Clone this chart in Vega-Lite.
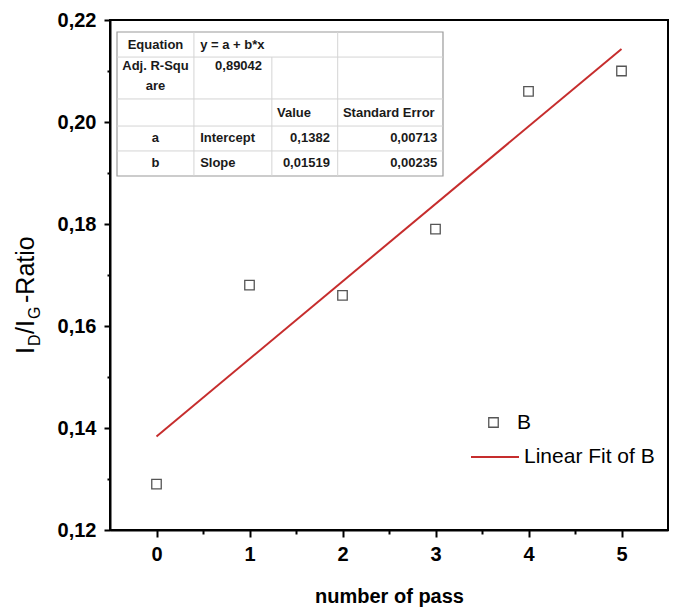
{
  "$schema": "https://vega.github.io/schema/vega-lite/v6.json",
  "width": 558,
  "height": 510,
  "autosize": {"type": "none"},
  "padding": {"left": 110, "top": 20, "right": 6, "bottom": 84},
  "background": "white",
  "config": {
    "font": "Liberation Sans",
    "view": {"stroke": "black", "strokeWidth": 2},
    "axis": {
      "grid": false,
      "domainColor": "black",
      "domainWidth": 2,
      "tickColor": "black",
      "tickWidth": 2,
      "labelFont": "Liberation Sans",
      "labelFontWeight": "bold",
      "labelFontSize": 20,
      "labelColor": "black",
      "labelOverlap": false,
      "labelFlush": false,
      "titleFont": "Liberation Sans",
      "titleFontWeight": "bold",
      "titleFontSize": 20,
      "titleColor": "black"
    },
    "legend": {"labelFont": "Liberation Sans", "labelColor": "black", "padding": 0}
  },
  "datasets": {
    "points": [
      {"pass": 0, "ratio": 0.129},
      {"pass": 1, "ratio": 0.168},
      {"pass": 2, "ratio": 0.166},
      {"pass": 3, "ratio": 0.179},
      {"pass": 4, "ratio": 0.206},
      {"pass": 5, "ratio": 0.21}
    ],
    "ytitle_main": [
      {"t": "I", "x": -1.3172, "y": 0.15451},
      {"t": "/I", "x": -1.3172, "y": 0.15843},
      {"t": "-Ratio", "x": -1.3172, "y": 0.16451}
    ],
    "ytitle_sub": [
      {"t": "D", "x": -1.2527, "y": 0.15608},
      {"t": "G", "x": -1.2527, "y": 0.16137}
    ],
    "table_box": [{"x0": 0, "x1": 1, "y0": 0, "y1": 1}],
    "table_hlines": [{"y": 0.174}, {"y": 0.465}, {"y": 0.653}, {"y": 0.826}],
    "table_vlines": [
      {"x": 0.236, "y0": 0, "y1": 1},
      {"x": 0.475, "y0": 0.174, "y1": 1},
      {"x": 0.677, "y0": 0, "y1": 1}
    ],
    "table_center": [
      {"text": "Equation", "x": 0.118, "y": 0.09},
      {"text": "Adj. R-Squ", "x": 0.118, "y": 0.236},
      {"text": "are", "x": 0.118, "y": 0.375},
      {"text": "a", "x": 0.118, "y": 0.736},
      {"text": "b", "x": 0.118, "y": 0.91}
    ],
    "table_left": [
      {"text": "y = a + b*x", "x": 0.255, "y": 0.09},
      {"text": "Value", "x": 0.491, "y": 0.5625},
      {"text": "Standard Error", "x": 0.693, "y": 0.5625},
      {"text": "Intercept", "x": 0.255, "y": 0.736},
      {"text": "Slope", "x": 0.255, "y": 0.91}
    ],
    "table_right": [
      {"text": "0,89042", "x": 0.445, "y": 0.236},
      {"text": "0,1382", "x": 0.653, "y": 0.736},
      {"text": "0,00713", "x": 0.982, "y": 0.736},
      {"text": "0,01519", "x": 0.653, "y": 0.91},
      {"text": "0,00235", "x": 0.982, "y": 0.91}
    ]
  },
  "layer": [
    {
      "layer": [
        {
          "data": {"name": "points"},
          "transform": [{"regression": "ratio", "on": "pass", "method": "linear", "extent": [0, 5]}],
          "mark": {"type": "line", "strokeWidth": 2},
          "encoding": {
            "x": {"field": "pass", "type": "quantitative", "scale": {"domain": [-0.5, 5.5], "nice": false, "zero": false}},
            "y": {"field": "ratio", "type": "quantitative", "scale": {"domain": [0.12, 0.22], "nice": false, "zero": false}},
            "stroke": {
              "datum": "Linear Fit of B",
              "scale": {"domain": ["Linear Fit of B"], "range": ["#c62d2d"]},
              "legend": {
                "title": null,
                "orient": "none",
                "legendX": 360,
                "legendY": 412,
                "symbolType": "stroke",
                "symbolSize": 2304,
                "symbolStrokeWidth": 2,
                "labelFontSize": 21,
                "labelFontWeight": "normal",
                "labelOffset": 4
              }
            }
          }
        },
        {
          "data": {"name": "points"},
          "mark": {"type": "point", "filled": false, "color": "#555555", "strokeWidth": 1.3, "size": 90, "opacity": 1},
          "encoding": {
            "x": {
              "field": "pass",
              "type": "quantitative",
              "scale": {"domain": [-0.5, 5.5], "nice": false, "zero": false},
              "axis": {
                "title": "number of pass",
                "titlePadding": 22,
                "values": [0, 0.5, 1, 1.5, 2, 2.5, 3, 3.5, 4, 4.5, 5],
                "labelExpr": "datum.value % 1 == 0 ? format(datum.value, 'd') : ''",
                "tickSize": {"condition": {"test": "datum.value % 1 != 0", "value": 4}, "value": 7},
                "labelPadding": 7
              }
            },
            "y": {
              "field": "ratio",
              "type": "quantitative",
              "scale": {"domain": [0.12, 0.22], "nice": false, "zero": false},
              "axis": {
                "title": null,
                "values": [0.12, 0.13, 0.14, 0.15, 0.16, 0.17, 0.18, 0.19, 0.2, 0.21, 0.22],
                "labelExpr": "round(datum.value * 100) % 2 == 0 ? replace(format(datum.value, '.2f'), '.', ',') : ''",
                "tickSize": {"condition": {"test": "round(datum.value * 100) % 2 != 0", "value": 3}, "value": 6},
                "labelPadding": 8
              }
            },
            "shape": {
              "datum": "B",
              "scale": {"domain": ["B"], "range": ["square"]},
              "legend": {
                "title": null,
                "orient": "none",
                "legendX": 373,
                "legendY": 392,
                "symbolSize": 90,
                "symbolStrokeColor": "#555555",
                "symbolFillColor": "transparent",
                "symbolStrokeWidth": 1.3,
                "labelFontSize": 21,
                "labelFontWeight": "normal",
                "labelOffset": 13
              }
            }
          }
        },
        {
          "data": {"name": "ytitle_main"},
          "mark": {"type": "text", "angle": 270, "align": "left", "baseline": "alphabetic", "fontSize": 25, "font": "Liberation Sans", "color": "black"},
          "encoding": {
            "x": {"field": "x", "type": "quantitative"},
            "y": {"field": "y", "type": "quantitative"},
            "text": {"field": "t"}
          }
        },
        {
          "data": {"name": "ytitle_sub"},
          "mark": {"type": "text", "angle": 270, "align": "left", "baseline": "alphabetic", "fontSize": 16, "font": "Liberation Sans", "color": "black"},
          "encoding": {
            "x": {"field": "x", "type": "quantitative"},
            "y": {"field": "y", "type": "quantitative"},
            "text": {"field": "t"}
          }
        }
      ]
    },
    {
      "layer": [
        {
          "data": {"name": "table_box"},
          "mark": {"type": "rect", "fill": "white", "stroke": "#9a9a9a", "strokeWidth": 1.2},
          "encoding": {
            "x": {"field": "x0", "type": "quantitative", "axis": null, "scale": {"domain": [-0.02147, 1.6902], "nice": false, "zero": false}},
            "x2": {"field": "x1"},
            "y": {"field": "y0", "type": "quantitative", "axis": null, "scale": {"domain": [-0.08333, 3.4583], "nice": false, "zero": false, "reverse": true}},
            "y2": {"field": "y1"}
          }
        },
        {
          "data": {"name": "table_hlines"},
          "mark": {"type": "rule", "stroke": "#d4d4d4", "strokeWidth": 1},
          "encoding": {
            "x": {"datum": 0, "type": "quantitative"},
            "x2": {"datum": 1},
            "y": {"field": "y", "type": "quantitative"}
          }
        },
        {
          "data": {"name": "table_vlines"},
          "mark": {"type": "rule", "stroke": "#d4d4d4", "strokeWidth": 1},
          "encoding": {
            "x": {"field": "x", "type": "quantitative"},
            "y": {"field": "y0", "type": "quantitative"},
            "y2": {"field": "y1"}
          }
        },
        {
          "data": {"name": "table_center"},
          "mark": {"type": "text", "align": "center", "baseline": "middle", "fontSize": 13, "fontWeight": "bold", "font": "Liberation Sans", "color": "#1a1a1a"},
          "encoding": {
            "x": {"field": "x", "type": "quantitative"},
            "y": {"field": "y", "type": "quantitative"},
            "text": {"field": "text"}
          }
        },
        {
          "data": {"name": "table_left"},
          "mark": {"type": "text", "align": "left", "baseline": "middle", "fontSize": 13, "fontWeight": "bold", "font": "Liberation Sans", "color": "#1a1a1a"},
          "encoding": {
            "x": {"field": "x", "type": "quantitative"},
            "y": {"field": "y", "type": "quantitative"},
            "text": {"field": "text"}
          }
        },
        {
          "data": {"name": "table_right"},
          "mark": {"type": "text", "align": "right", "baseline": "middle", "fontSize": 13, "fontWeight": "bold", "font": "Liberation Sans", "color": "#1a1a1a"},
          "encoding": {
            "x": {"field": "x", "type": "quantitative"},
            "y": {"field": "y", "type": "quantitative"},
            "text": {"field": "text"}
          }
        }
      ]
    }
  ],
  "resolve": {"scale": {"x": "independent", "y": "independent"}}
}
